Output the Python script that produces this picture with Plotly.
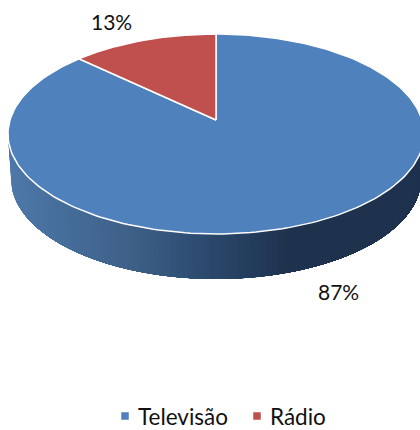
import numpy as np
import plotly.graph_objects as go

# Share of each medium
categories = ["Televisão", "Rádio"]
shares = [87, 13]
slice_colors = ["#4F81BD", "#C0504D"]

# Tilted disc: apex, radii and perspective of the upper face, in pixels
APEX_X, APEX_Y = 216, 120
RADIUS_X, RADIUS_Y = 206, 98
PERSPECTIVE = 0.14
DEPTH = 45
FONT = "Lato, Carlito, Calibri, sans-serif"

# Legend row: key and label positions, in pixels
LEGEND_Y = 416
KEY_X = [125, 257]
LABEL_X = [138, 270]

# Shading across the width of the rim
RIM_X = [10, 60, 130, 210, 290, 420]
RIM_R = [78, 70, 62, 42, 30, 30]
RIM_G = [120, 110, 96, 72, 50, 50]
RIM_B = [168, 155, 136, 108, 78, 78]


def rim_point(frac, scale=1.0, drop=0.0):
    """Screen position of a point on the disc edge, frac measured clockwise from 12 o'clock."""
    t = 2 * np.pi * np.asarray(frac, dtype=float)
    u, v = np.sin(t), np.cos(t)
    w = 1 + PERSPECTIVE * v
    return APEX_X + scale * RADIUS_X * u / w, APEX_Y - RADIUS_Y * v / w + drop


fig = go.Figure()

# Visible rim: each band runs to the far end and the next one is painted over it,
# so the shade changes along the rim without seams
rim_start, rim_end = 0.27, 0.73
band_edges = np.linspace(rim_end, rim_start, 121)
for f0, f1 in zip(band_edges[:-1], band_edges[1:]):
    arc = np.linspace(rim_start, f0, 120)
    xt, yt = rim_point(arc)
    xb, yb = rim_point(arc[::-1], scale=0.985, drop=DEPTH)
    xm = float(rim_point((f0 + f1) / 2)[0])
    shade = "rgb({:.0f},{:.0f},{:.0f})".format(
        np.interp(xm, RIM_X, RIM_R), np.interp(xm, RIM_X, RIM_G), np.interp(xm, RIM_X, RIM_B)
    )
    fig.add_trace(go.Scatter(
        x=np.r_[xt, xb], y=np.r_[yt, yb], mode="lines", fill="toself",
        fillcolor=shade, line=dict(width=0),
        hoverinfo="skip", showlegend=False,
    ))

# Upper face of the disc, one wedge per category
total = sum(shares)
start = 0.0
for name, value, color in zip(categories, shares, slice_colors):
    end = start + value / total
    arc = np.linspace(start, end, 240)
    xs, ys = rim_point(arc)
    fig.add_trace(go.Scatter(
        x=np.r_[APEX_X, xs, APEX_X], y=np.r_[APEX_Y, ys, APEX_Y], mode="lines", fill="toself",
        fillcolor=color, line=dict(color="white", width=1.5),
        name=name, hoverinfo="name", showlegend=False,
    ))
    start = end

# Legend keys and labels
fig.add_trace(go.Scatter(
    x=KEY_X, y=[LEGEND_Y] * len(KEY_X), mode="markers", hoverinfo="skip", showlegend=False,
    marker=dict(symbol="square", size=7.5, color=slice_colors),
))
for name, lx in zip(categories, LABEL_X):
    fig.add_annotation(x=lx, y=LEGEND_Y, text=name, showarrow=False, xanchor="left",
                       xshift=-2, font=dict(family=FONT, size=22.5, color="#111111"))

fig.add_annotation(x=338, y=291, text=f"{shares[0]}%", showarrow=False,
                   font=dict(family=FONT, size=21, color="#111111"))
fig.add_annotation(x=111, y=21, text=f"{shares[1]}%", showarrow=False,
                   font=dict(family=FONT, size=21, color="#111111"))

fig.update_layout(
    width=420, height=430, autosize=False,
    margin=dict(l=0, r=0, t=0, b=0),
    paper_bgcolor="white", plot_bgcolor="white",
    showlegend=False,
    xaxis=dict(range=[0, 420], visible=False, fixedrange=True),
    yaxis=dict(range=[430, 0], visible=False, fixedrange=True),
)

fig.write_html("out.html", config=dict(displayModeBar=False))
